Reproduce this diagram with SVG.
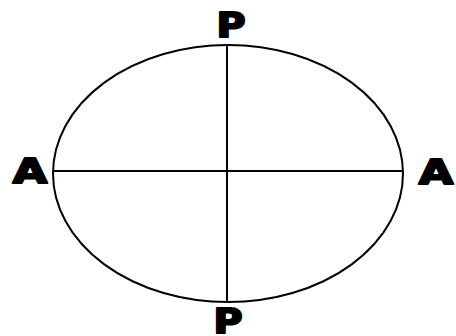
<svg xmlns="http://www.w3.org/2000/svg" width="456" height="336" viewBox="0 0 456 336">
<style>
.lbl{font-family:"DejaVu Sans","Liberation Sans",sans-serif;font-weight:bold;font-size:33px;fill:#000;stroke:#000;stroke-width:2;stroke-linejoin:round;text-anchor:middle}
.ln{stroke:#000;stroke-width:2;fill:none}
</style>
<rect width="456" height="336" fill="#fff"/>
<g id="ellipse"><ellipse class="ln" cx="228" cy="173.5" rx="175" ry="128.5"/></g>
<g id="connectors">
<line class="ln" x1="227" y1="45" x2="227" y2="302"/>
<line class="ln" x1="53" y1="171" x2="403" y2="171"/>
</g>
<g id="label-p-top"><text class="lbl" transform="translate(231,37) scale(1.2,1)">P</text></g>
<g id="label-p-bottom"><text class="lbl" transform="translate(228,333) scale(1.2,1)">P</text></g>
<g id="label-a-left"><text class="lbl" transform="translate(30,183) scale(1.35,1)">A</text></g>
<g id="label-a-right"><text class="lbl" transform="translate(436,184) scale(1.35,1)">A</text></g>
</svg>
